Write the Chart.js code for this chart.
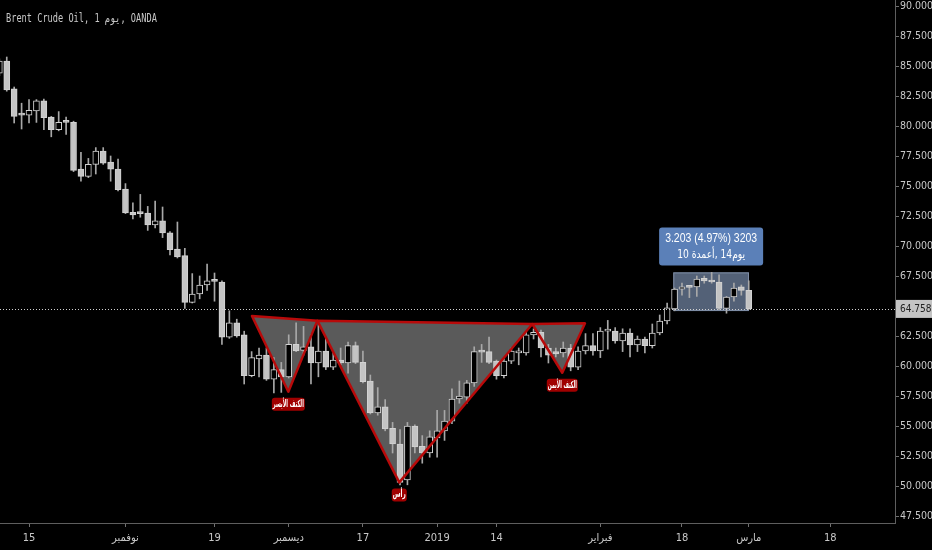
<!DOCTYPE html>
<html>
<head>
<meta charset="utf-8">
<script src="https://cdn.jsdelivr.net/npm/chart.js@4.4.0/dist/chart.umd.min.js"></script>
<style>
    html, body { margin: 0; padding: 0; background: #000; }
    #wrap { width: 932px; height: 550px; }
</style>
</head>
<body>
<div id="wrap"><canvas id="oil-chart" width="932" height="550"></canvas></div>
<script>
// Brent daily candles, index 0 = 15 Oct 2018 (trading days)
const dayIdx = [-4, -3, -2, -1, 0, 1, 2, 3, 4, 5, 6, 7, 8, 9, 10, 11, 12, 13, 14, 15,
    16, 17, 18, 19, 20, 21, 22, 23, 24, 25, 26, 27, 28, 29, 30, 31, 32, 33, 34, 35,
    36, 37, 38, 39, 40, 41, 42, 43, 44, 45, 46, 47, 48, 49, 50, 51, 52, 53, 54, 55,
    56, 57, 58, 59, 60, 61, 62, 63, 64, 65, 66, 67, 68, 69, 70, 71, 72, 73, 74, 75,
    76, 77, 78, 79, 80, 81, 82, 83, 84, 85, 86, 87, 88, 89, 90, 91, 92, 93, 94, 95,
    96, 97];
const opens = [84.4, 85.4, 83.1, 81.0, 80.9, 81.25, 82.1, 80.75, 79.7, 80.35, 80.3, 76.4, 75.8, 76.8, 77.9, 77.0, 76.4, 74.75, 72.8, 72.75,
    72.75, 71.75, 72.1, 71.1, 69.75, 69.2, 65.3, 66.0, 66.75, 67.1, 67.0, 62.4, 63.6, 62.6, 59.2, 60.6, 60.9, 58.9, 59.7, 59.1,
    61.8, 61.3, 61.6, 60.25, 61.25, 59.9, 60.5, 60.25, 61.7, 60.3, 58.75, 56.1, 56.6, 54.8, 53.5, 50.5, 55.0, 53.3, 52.75, 54.0,
    54.6, 55.4, 57.25, 57.4, 58.6, 61.2, 61.2, 60.4, 59.2, 60.4, 61.1, 61.1, 62.6, 62.8, 61.5, 61.2, 61.1, 61.5, 59.9, 61.25,
    61.7, 61.25, 62.9, 62.9, 62.1, 62.75, 61.75, 62.25, 61.7, 62.75, 63.75, 64.75, 66.4, 66.6, 66.6, 67.3, 67.05, 67.0, 64.8, 65.75,
    66.6, 66.3];
const highs = [85.6, 85.75, 83.25, 81.9, 82.2, 82.2, 82.25, 80.8, 81.2, 80.75, 80.4, 77.8, 77.3, 78.2, 78.2, 77.5, 77.25, 75.2, 73.6, 74.3,
    73.3, 73.75, 73.25, 71.2, 72.0, 69.8, 67.7, 67.5, 68.5, 67.75, 67.1, 64.6, 63.9, 62.9, 61.2, 61.5, 61.5, 60.7, 60.3, 62.6,
    63.6, 63.3, 62.6, 63.8, 62.3, 61.1, 61.5, 62.0, 62.0, 61.25, 59.25, 58.2, 57.2, 55.3, 54.7, 55.3, 55.1, 54.2, 54.6, 56.3,
    56.3, 58.1, 58.75, 58.8, 61.6, 61.8, 62.4, 60.5, 60.6, 61.5, 61.5, 62.8, 63.1, 63.0, 61.8, 61.5, 62.0, 61.8, 61.6, 62.7,
    62.7, 63.2, 63.8, 63.2, 63.1, 63.1, 62.5, 62.4, 63.5, 64.25, 65.25, 66.5, 66.9, 66.7, 67.5, 67.5, 67.8, 67.6, 65.8, 66.9,
    66.75, 67.1];
const lows = [84.2, 82.9, 80.25, 79.75, 80.25, 80.3, 79.7, 79.1, 79.6, 79.3, 76.2, 75.4, 75.7, 76.0, 76.8, 75.4, 74.6, 72.7, 72.25, 72.4,
    71.3, 71.5, 70.7, 69.25, 69.0, 64.8, 65.25, 65.6, 66.3, 65.4, 61.8, 62.3, 62.4, 58.5, 59.1, 59.1, 58.8, 57.75, 57.8, 59.0,
    61.2, 60.9, 58.5, 59.1, 59.7, 59.7, 60.1, 59.4, 60.2, 58.6, 56.0, 55.9, 54.6, 52.75, 50.1, 50.1, 52.75, 51.9, 52.4, 52.4,
    53.8, 55.2, 56.9, 56.9, 58.3, 60.3, 60.2, 58.9, 59.0, 60.2, 60.1, 60.9, 62.25, 60.75, 60.25, 60.75, 60.75, 59.6, 59.7, 61.0,
    60.9, 60.7, 61.4, 61.9, 61.2, 60.75, 61.2, 61.1, 61.5, 62.6, 63.5, 64.6, 65.9, 65.7, 65.8, 66.9, 66.9, 64.7, 64.4, 65.4,
    65.9, 64.7];
const closes = [85.4, 83.0, 80.8, 80.9, 81.3, 82.1, 80.7, 79.7, 80.3, 80.3, 76.3, 75.8, 76.8, 77.9, 76.9, 76.4, 74.7, 72.75, 72.6, 72.7,
    71.75, 72.1, 71.1, 69.7, 69.1, 65.3, 66.0, 66.75, 67.1, 67.05, 62.4, 63.6, 62.5, 59.2, 60.7, 60.9, 58.9, 59.7, 59.1, 61.8,
    61.25, 61.6, 60.25, 61.25, 59.9, 60.5, 60.25, 61.7, 60.3, 58.7, 56.1, 56.6, 54.75, 53.5, 50.3, 55.0, 53.25, 52.75, 54.1, 54.6,
    55.4, 57.25, 57.5, 58.6, 61.2, 61.15, 60.3, 59.2, 60.4, 61.25, 61.25, 62.6, 62.8, 61.5, 60.9, 61.0, 61.5, 59.9, 61.25, 61.7,
    61.25, 62.9, 62.95, 62.1, 62.75, 61.75, 62.25, 61.7, 62.75, 63.75, 64.85, 66.4, 66.6, 66.55, 67.25, 67.1, 67.0, 64.8, 65.75, 66.5,
    66.3, 64.758];

// bottom axis
const tickIdx = [0, 13, 25, 35, 45, 55, 63, 77, 88, 97, 108];
const tickLabels = ['15', 'نوفمبر', '19', 'ديسمبر', '17', '2019', '14', 'فبراير', '18', 'مارس', '18'];
// right axis
const priceTicks = [47.5, 50, 52.5, 55, 57.5, 60, 62.5, 65, 67.5, 70, 72.5, 75, 77.5, 80, 82.5, 85, 87.5, 90];

// head & shoulders drawing: start, left shoulder, neck, head, neck, right shoulder, end
const patternIdx = [30.05, 34.95, 38.86, 49.9, 67.83, 71.87, 74.93];
const patternPrice = [64.17, 57.86, 63.78, 50.3, 63.5, 59.44, 63.56];
const patternLabels = ['الكتف الأيسر', 'رأس', 'الكتف الأيمن'];

// price range box
const rangeIdx = [86.83, 97.03];
const rangePrice = [64.58, 67.8];
const rangeLine1 = '3.203 (4.97%) 3203';
const rangeLine2 = ['10 ', 'أعمدة', ', 14', 'يوم'];

const title = 'Brent Crude Oil, 1 يوم, OANDA';
const narrow = '"Liberation Sans Narrow", "DejaVu Sans Condensed", sans-serif';

const bodyData = dayIdx.map((d, i) => ({ x: d, y: [opens[i], closes[i]] }));
const wickData = dayIdx.map((d, i) => ({ x: d, y: [lows[i], highs[i]] }));
const bodyFill = dayIdx.map((d, i) => closes[i] >= opens[i] ? '#000000' : '#c4c4c4');

function squeezeText(ctx, text, cx, cy, maxW) {
    const w = ctx.measureText(text).width;
    const k = Math.min(1, maxW / w);
    ctx.save();
    ctx.translate(cx, cy);
    ctx.scale(k, 1);
    ctx.fillText(text, 0, 0);
    ctx.restore();
}

const overlay = {
    id: 'overlay',
    beforeDraw(chart) {
        const ctx = chart.ctx;
        ctx.save();
        ctx.fillStyle = '#000';
        ctx.fillRect(0, 0, chart.width, chart.height);
        ctx.restore();
    },
    beforeDatasetsDraw(chart) {
        const { ctx, scales: { x, y } } = chart;
        const pts = patternIdx.map((d, i) => [x.getPixelForValue(d), y.getPixelForValue(patternPrice[i])]);
        ctx.save();
        ctx.fillStyle = 'rgba(100, 100, 100, 0.9)';
        [[0, 1, 2], [2, 3, 4], [4, 5, 6]].forEach(t => {
            ctx.beginPath();
            ctx.moveTo(pts[t[0]][0], pts[t[0]][1]);
            ctx.lineTo(pts[t[1]][0], pts[t[1]][1]);
            ctx.lineTo(pts[t[2]][0], pts[t[2]][1]);
            ctx.closePath();
            ctx.fill();
        });
        // range box
        const x0 = x.getPixelForValue(rangeIdx[0]);
        const x1 = x.getPixelForValue(rangeIdx[1]);
        const y0 = y.getPixelForValue(rangePrice[1]);
        const y1 = y.getPixelForValue(rangePrice[0]);
        ctx.fillStyle = 'rgba(98, 114, 140, 0.85)';
        ctx.fillRect(x0, y0, x1 - x0, y1 - y0);
        ctx.strokeStyle = '#7f8ea6';
        ctx.lineWidth = 1;
        ctx.strokeRect(x0 + 0.5, y0 + 0.5, x1 - x0 - 1, y1 - y0 - 1);
        ctx.restore();
    },
    afterDatasetsDraw(chart) {
        const { ctx, chartArea, scales: { x, y } } = chart;
        const pts = patternIdx.map((d, i) => [x.getPixelForValue(d), y.getPixelForValue(patternPrice[i])]);
        ctx.save();
        ctx.strokeStyle = '#b80a0a';
        ctx.lineWidth = 2.5;
        ctx.lineJoin = 'round';
        [[0, 1, 2], [2, 3, 4], [4, 5, 6]].forEach(t => {
            ctx.beginPath();
            ctx.moveTo(pts[t[0]][0], pts[t[0]][1]);
            ctx.lineTo(pts[t[1]][0], pts[t[1]][1]);
            ctx.lineTo(pts[t[2]][0], pts[t[2]][1]);
            ctx.closePath();
            ctx.stroke();
        });

        // pattern labels under shoulders and head
        const labelAt = [[1, 33], [3, 15], [5, 31]];
        ctx.font = 'bold 10px "DejaVu Sans", sans-serif';
        ctx.textAlign = 'center';
        ctx.textBaseline = 'middle';
        labelAt.forEach((a, k) => {
            const px = pts[a[0]][0];
            const py = pts[a[0]][1] + 12;
            ctx.fillStyle = '#a00000';
            ctx.beginPath();
            ctx.roundRect(px - a[1] / 2, py - 6, a[1], 13, 3);
            ctx.fill();
            ctx.fillStyle = '#ffffff';
            squeezeText(ctx, patternLabels[k], px, py + 0.5, a[1] - 2);
        });

        // last price dotted line
        const lastY = Math.round(y.getPixelForValue(closes[closes.length - 1])) + 0.5;
        ctx.strokeStyle = '#d0d0d0';
        ctx.lineWidth = 1;
        ctx.setLineDash([1, 2]);
        ctx.beginPath();
        ctx.moveTo(chartArea.left, lastY);
        ctx.lineTo(chartArea.right, lastY);
        ctx.stroke();
        ctx.setLineDash([]);

        // range label
        const cx = (x.getPixelForValue(rangeIdx[0]) + x.getPixelForValue(rangeIdx[1])) / 2;
        const top = y.getPixelForValue(rangePrice[1]) - 45;
        ctx.fillStyle = '#5b80b8';
        ctx.beginPath();
        ctx.roundRect(cx - 52, top, 104, 38, 3);
        ctx.fill();
        ctx.fillStyle = '#ffffff';
        ctx.font = '12px "Liberation Sans", Arial, sans-serif';
        squeezeText(ctx, rangeLine1, cx, top + 11, 92);
        // second line: pieces laid out left to right
        ctx.font = '12px "DejaVu Sans", sans-serif';
        ctx.textAlign = 'left';
        ctx.direction = 'ltr';
        const widths = rangeLine2.map(s => ctx.measureText(s).width);
        const total = widths.reduce((a, b) => a + b, 0);
        const k = Math.min(1, 68 / total);
        ctx.save();
        ctx.translate(cx - total * k / 2, top + 27);
        ctx.scale(k, 1);
        let off = 0;
        rangeLine2.forEach((s, i) => { ctx.fillText(s, off, 0); off += widths[i]; });
        ctx.restore();
        ctx.restore();
    },
    afterDraw(chart) {
        const { ctx, chartArea, scales: { y } } = chart;
        const last = closes[closes.length - 1];
        const py = y.getPixelForValue(last);
        ctx.save();
        ctx.fillStyle = '#c4c4c4';
        ctx.fillRect(chartArea.right + 1, py - 9, chart.width - chartArea.right - 1, 18);
        ctx.fillStyle = '#222';
        ctx.font = '10px ' + narrow;
        ctx.textAlign = 'left';
        ctx.textBaseline = 'middle';
        ctx.fillText(last.toFixed(3), chartArea.right + 5, py + 0.5);

        ctx.fillStyle = '#c8c8c8';
        ctx.font = '12px "DejaVu Sans Mono", monospace';
        ctx.save();
        ctx.translate(6, 19);
        ctx.scale(0.72, 1);
        ctx.fillText(title, 0, 0);
        ctx.restore();
        ctx.restore();
    }
};

const ctx = document.getElementById('oil-chart').getContext('2d');
const oilChart = new Chart(ctx, {
    type: 'bar',
    data: {
        datasets: [{
            label: 'body',
            data: bodyData,
            backgroundColor: bodyFill,
            borderColor: '#d2d2d2',
            borderWidth: 1,
            borderSkipped: false,
            barThickness: 6,
            minBarLength: 2,
            order: 0
        }, {
            label: 'wick',
            data: wickData,
            backgroundColor: '#a8a8a8',
            borderWidth: 0,
            barThickness: 1,
            order: 1
        }]
    },
    options: {
        responsive: false,
        devicePixelRatio: 1,
        animation: false,
        grouped: false,
        layout: { padding: 0 },
        plugins: {
            legend: { display: false },
            tooltip: { enabled: false }
        },
        scales: {
            x: {
                type: 'linear',
                min: -3.91,
                max: 116.71,
                offset: false,
                grid: { display: true, drawOnChartArea: false, drawTicks: true, tickLength: 4, color: '#707070', offset: false },
                border: { display: true, color: '#5e5e5e' },
                ticks: {
                    autoSkip: false,
                    maxRotation: 0,
                    padding: 5,
                    color: '#c8c8c8',
                    font: { family: narrow, size: 11 },
                    callback: (v) => {
                        const k = tickIdx.indexOf(v);
                        return k >= 0 ? tickLabels[k] : '';
                    }
                },
                afterBuildTicks: (s) => { s.ticks = tickIdx.map(v => ({ value: v })); },
                afterFit: (s) => { s.height = 27; s.paddingLeft = 0; s.paddingRight = 0; }
            },
            y: {
                position: 'right',
                min: 46.917,
                max: 90.5,
                grid: { display: true, drawOnChartArea: false, drawTicks: true, tickLength: 4, color: '#707070' },
                border: { display: true, color: '#5e5e5e' },
                ticks: {
                    padding: 1,
                    color: '#c8c8c8',
                    font: { family: narrow, size: 10.5 },
                    callback: (v) => Number(v).toFixed(3)
                },
                afterBuildTicks: (s) => { s.ticks = priceTicks.map(v => ({ value: v })); },
                afterFit: (s) => { s.width = 37; s.paddingTop = 0; s.paddingBottom = 0; }
            }
        }
    },
    plugins: [overlay]
});
</script>
</body>
</html>
